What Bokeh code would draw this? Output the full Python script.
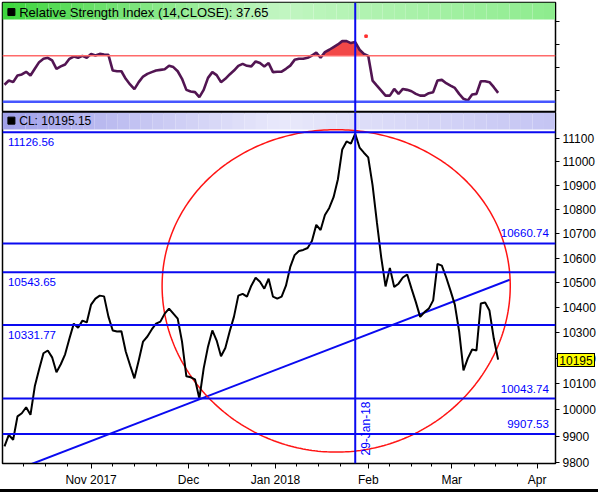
import numpy as np
from bokeh.plotting import figure
from bokeh.models import (Range1d, FixedTicker, Span, Label, NumeralTickFormatter, Div,
                          CustomLabelingPolicy)
from bokeh.layouts import column
from bokeh.embed import file_html
from bokeh.resources import INLINE

# ---------------- data ----------------
rsi_values = [
    44.7, 48.4, 47.0, 52.8, 53.7, 56.0, 52.8, 58.6, 64.4, 67.3,
    68.2, 65.9, 58.6, 60.7, 62.4, 67.3, 69.3, 68.2, 69.9, 68.2,
    71.6, 70.2, 71.6, 71.0, 70.7, 57.1, 56.5, 56.5, 49.9, 45.0,
    40.9, 47.0, 51.9, 54.2, 55.7, 57.1, 57.7, 58.3, 61.2, 60.1,
    56.5, 49.9, 40.3, 38.9, 38.3, 33.9, 40.3, 50.7, 55.7, 53.1,
    47.0, 49.9, 53.7, 57.1, 61.2, 62.9, 61.2, 60.7, 65.0, 63.6,
    60.7, 63.6, 55.7, 56.0, 56.2, 58.6, 61.4, 66.4, 67.3, 67.3,
    68.2, 70.2, 72.8, 68.2, 73.1, 75.2, 77.5, 79.8, 82.7, 82.7,
    81.0, 81.9, 75.2, 71.6, 69.9, 48.4, 44.0, 39.7, 35.3, 35.3,
    41.1, 36.8, 41.1, 40.3, 39.1, 36.8, 35.3, 35.3, 37.4, 38.3,
    48.4, 49.0, 46.1, 44.0, 42.0, 36.8, 32.5, 31.0, 36.2, 36.8,
    47.8, 47.8, 47.0, 42.6, 37.65,
]
close_values = [
    9861, 9904, 9886, 9975, 9987, 10010, 9981, 10091, 10157, 10220,
    10231, 10204, 10146, 10177, 10216, 10278, 10337, 10321, 10349, 10342,
    10413, 10437, 10449, 10446, 10365, 10310, 10306, 10307, 10227, 10173,
    10122, 10192, 10266, 10286, 10314, 10337, 10345, 10377, 10397, 10377,
    10357, 10266, 10130, 10126, 10118, 10043.74, 10161, 10246, 10310, 10270,
    10208, 10241, 10306, 10365, 10449, 10456, 10445, 10489, 10521, 10505,
    10477, 10517, 10445, 10437, 10445, 10489, 10565, 10613, 10630, 10634,
    10642, 10671, 10737, 10716, 10778, 10807, 10852, 10927, 11053, 11087,
    11078, 11120, 11061, 11039, 11019, 10902, 10748, 10604, 10486, 10561,
    10484, 10497, 10522, 10534, 10477, 10423, 10364, 10383, 10397, 10430,
    10577, 10570, 10523, 10469, 10413, 10306, 10153, 10200, 10235, 10231,
    10417, 10421, 10389, 10278, 10195.15,
]
month_labels = ["Nov 2017", "Dec", "Jan 2018", "Feb", "Mar", "Apr"]
month_ticks = [20, 42.5, 62.6, 84, 103.3, 123]
week_ticks = [4.5, 9.5, 14.5, 25, 30, 35, 47, 52, 57, 67.5, 72.5, 77.5,
              89, 94, 98.5, 108.5, 113.5, 118.5]
price_ticks = list(range(9800, 11101, 100))
rsi_ticks = [40, 60, 80, 100]
levels_left = [11126.56, 10543.65, 10331.77]
levels_right = [10660.74, 10043.74, 9907.53]
rsi_overbought = 70
rsi_oversold = 30
rsi_period_label = "Relative Strength Index (14,CLOSE)"
symbol = "CL"
last_close = 10195.15
last_rsi = 37.65
marker_day = 81
marker_label = "29-Jan-18"
trend_x = [0, 116.7]
trend_y = [9755, 10513]
ellipse_cx, ellipse_rx = 76.6, 40.2
ellipse_cy, ellipse_ry = 10488, 649
stray_x, stray_y = [83.5], [87]

# ---------------- styling helpers ----------------
FONT = "Liberation Sans"
BLUE = "#0a0af0"
idx = np.arange(len(close_values))
rsi = np.array(rsi_values)
close = np.array(close_values)

W = 598
BORDER_L, BORDER_R = 2, 43
RSI_FRAME_H, PRICE_FRAME_H, XAXIS_H = 110, 353, 24


def hex_to_rgb(h):
    h = h.lstrip("#")
    return [int(h[i:i + 2], 16) for i in (0, 2, 4)]


def gradient(stops, n):
    out = []
    for k in range(n):
        f = (k + 0.5) / n
        for (f0, c0), (f1, c1) in zip(stops[:-1], stops[1:]):
            if f0 <= f <= f1:
                t = (f - f0) / (f1 - f0)
                a, b = hex_to_rgb(c0), hex_to_rgb(c1)
                rgb = [round(a[j] + (b[j] - a[j]) * t) for j in range(3)]
                out.append("#%02x%02x%02x" % tuple(rgb))
                break
    return out


def add_band(p, bottom, top, stops, n=48):
    xs = np.linspace(xr.start, xr.end, n + 1)
    p.quad(left=xs[:-1], right=xs[1:], bottom=bottom, top=top,
           color=gradient(stops, n), line_color=None)


xr = Range1d(-0.46, 127.25)

# ---------------- RSI panel ----------------
rsi_top, rsi_band_bottom, rsi_bottom = 116.3, 101.5, 20.6
p1 = figure(width=W, height=RSI_FRAME_H + 2, x_range=xr, y_range=Range1d(rsi_bottom, rsi_top),
            x_axis_location=None, y_axis_location="right",
            output_backend="svg", toolbar_location=None,
            min_border_left=BORDER_L, min_border_right=BORDER_R,
            min_border_top=2, min_border_bottom=0)
p1.grid.visible = False
p1.outline_line_color = "black"
p1.outline_line_width = 1.5
p1.background_fill_color = "white"
p1.yaxis.ticker = FixedTicker(ticks=rsi_ticks)
# tick marks only, no tick labels on the RSI scale
p1.yaxis.major_label_policy = CustomLabelingPolicy(
    code="return new indices.constructor(indices.size, 0)")
p1.yaxis.major_label_text_font_size = "8px"
p1.yaxis.major_label_text_alpha = 0
p1.yaxis.major_tick_out = 4
p1.yaxis.major_tick_in = 0
p1.yaxis.axis_line_color = "black"

add_band(p1, rsi_band_bottom, rsi_top,
         [(0, "#3cd63c"), (0.5, "#c2f6c2"), (1, "#8dec8d")])

p1.varea(x=idx, y1=rsi_overbought, y2=np.maximum(rsi, rsi_overbought),
         color="#f24848")
p1.add_layout(Span(location=rsi_overbought, dimension="width",
                   line_color="#ff6a6a", line_width=1.5))
p1.add_layout(Span(location=rsi_oversold, dimension="width",
                   line_color="#4656ff", line_width=2.5))
p1.line(idx, rsi, line_color="#521552", line_width=2.6)
p1.scatter(stray_x, stray_y, marker="square", size=2.5, color="#ff3030")
p1.add_layout(Span(location=marker_day, dimension="height",
                   line_color=BLUE, line_width=2))
p1.scatter([1.6], [108], marker="square", size=7, color="black")
p1.add_layout(Label(x=3.4, y=108, text=f"{rsi_period_label}: {last_rsi:.2f}",
                    text_baseline="middle", text_align="left",
                    text_font=FONT, text_font_size="13px", text_color="black"))

# ---------------- price panel ----------------
price_bottom, price_band_bottom, price_top = 9796, 11138, 11211
p2 = figure(width=W, height=PRICE_FRAME_H + XAXIS_H, x_range=xr,
            y_range=Range1d(price_bottom, price_top),
            y_axis_type="log", y_axis_location="right",
            output_backend="svg", toolbar_location=None,
            min_border_left=BORDER_L, min_border_right=BORDER_R,
            min_border_top=0, min_border_bottom=XAXIS_H)
p2.grid.visible = False
p2.outline_line_color = "black"
p2.outline_line_width = 1.5
p2.background_fill_color = "white"

p2.yaxis.ticker = FixedTicker(ticks=price_ticks)
p2.yaxis.formatter = NumeralTickFormatter(format="0")
p2.yaxis.major_label_text_font = FONT
p2.yaxis.major_label_text_font_size = "12px"
p2.yaxis.major_label_text_color = "black"
p2.yaxis.major_tick_out = 4
p2.yaxis.major_tick_in = 0
p2.yaxis.major_label_standoff = 3
p2.yaxis.axis_line_color = "black"

p2.xaxis.ticker = FixedTicker(ticks=month_ticks, minor_ticks=week_ticks)
p2.xaxis.major_label_overrides = {t: lab for t, lab in zip(month_ticks, month_labels)}
p2.xaxis.major_label_text_font = FONT
p2.xaxis.major_label_text_font_size = "12px"
p2.xaxis.major_label_text_color = "black"
p2.xaxis.major_tick_out = 5
p2.xaxis.major_tick_in = 0
p2.xaxis.minor_tick_out = 3
p2.xaxis.minor_tick_in = 0
p2.xaxis.major_label_standoff = 4
p2.xaxis.axis_line_color = "black"

add_band(p2, price_band_bottom, price_top,
         [(0, "#9f9fe9"), (0.5, "#e9e9fb"), (1, "#c4c4f3")])

for lv in levels_left + levels_right:
    p2.add_layout(Span(location=lv, dimension="width", line_color=BLUE, line_width=2))

p2.line(trend_x, trend_y, line_color=BLUE, line_width=2)

t = np.linspace(0, 2 * np.pi, 361)
p2.line(ellipse_cx + ellipse_rx * np.cos(t), ellipse_cy + ellipse_ry * np.sin(t),
        line_color="#ff1414", line_width=1.5)

p2.line(idx, close, line_color="black", line_width=2)

p2.add_layout(Span(location=marker_day, dimension="height", line_color=BLUE, line_width=2))

for lv in levels_left:
    p2.add_layout(Label(x=0.8, y=lv, y_offset=-10, text=f"{lv:.2f}",
                        text_align="left", text_baseline="middle",
                        text_font=FONT, text_font_size="11.5px", text_color="#0000ff"))
for lv in levels_right:
    p2.add_layout(Label(x=125.7, y=lv, y_offset=10, text=f"{lv:.2f}",
                        text_align="right", text_baseline="middle",
                        text_font=FONT, text_font_size="11.5px", text_color="#0000ff"))

p2.add_layout(Label(x=marker_day, x_offset=4, y=9826, text=marker_label,
                    angle=np.pi / 2, text_align="left", text_baseline="top",
                    text_font=FONT, text_font_size="12px", text_color="#0000ff"))

p2.scatter([1.6], [11176], marker="square", size=7, color="black")
p2.add_layout(Label(x=3.4, y=11176, text=f"{symbol}: {last_close:.2f}",
                    text_baseline="middle", text_align="left",
                    text_font=FONT, text_font_size="12px", text_color="black"))

# price tag on the right axis (outside the plot frame)
y_frac = (np.log(price_top) - np.log(last_close)) / (np.log(price_top) - np.log(price_bottom))
tag_top = int(round(RSI_FRAME_H + 2 + y_frac * PRICE_FRAME_H - 8))
tag = Div(text=f"{last_close:.0f}", width=38, height=14, margin=0,
          styles={"position": "absolute", "left": f"{W - BORDER_R + 2}px",
                  "top": f"{tag_top}px", "background-color": "#ffff00",
                  "border": "1px solid black", "font-family": FONT,
                  "font-size": "12px", "line-height": "14px", "color": "black",
                  "text-align": "center", "z-index": "10"})

total_h = RSI_FRAME_H + 2 + PRICE_FRAME_H + XAXIS_H
bottom_rule = Div(text="", width=W, height=3, margin=0,
                  styles={"position": "absolute", "left": "0px", "top": f"{total_h}px",
                          "width": f"{W}px", "height": "3px",
                          "background-color": "black", "z-index": "10"})

layout = column(p1, p2, tag, bottom_rule, spacing=0)
open("out.html", "w").write(file_html(layout, INLINE))
